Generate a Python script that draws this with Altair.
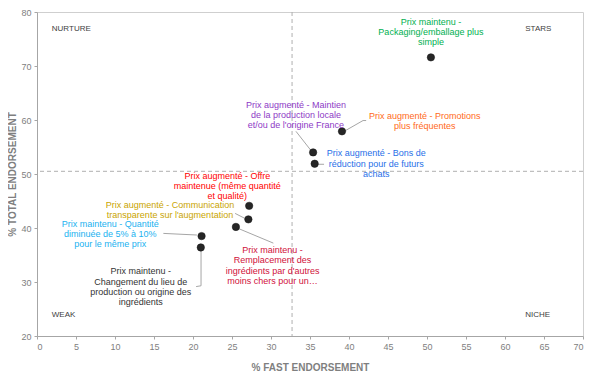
import altair as alt
import pandas as pd

# --- data ---
names = ["Packaging", "Promotions", "Maintien", "Bons", "Offre",
         "Communication", "Remplacement", "Quantite", "Changement"]
fast = [50.5, 39.1, 35.4, 35.6, 27.2, 27.1, 25.5, 21.1, 21.0]
total = [71.6, 57.9, 54.0, 51.9, 44.1, 41.6, 40.2, 38.5, 36.4]

label_text = [
    "Prix maintenu -\nPackaging/emballage plus\nsimple",
    "Prix augmenté - Promotions\nplus fréquentes",
    "Prix augmenté - Maintien\nde la production locale\net/ou de l'origine France",
    "Prix augmenté - Bons de\nréduction pour de futurs\nachats",
    "Prix augmenté - Offre\nmaintenue (même quantité\net qualité)",
    "Prix augmenté - Communication\ntransparente sur l'augmentation",
    "Prix maintenu -\nRemplacement des\ningrédients par d'autres\nmoins chers pour un…",
    "Prix maintenu - Quantité\ndiminuée de 5% à 10%\npour le même prix",
    "Prix maintenu -\nChangement du lieu de\nproduction ou origine des\ningrédients",
]
# position of each label's first line (centre)
label_x = [50.5, 49.7, 33.2, 43.5, 24.4, 17.05, 30.2, 9.4, 13.3]
label_y = [78.2, 60.8, 62.8, 53.8, 49.7, 44.3, 35.9, 40.75, 31.95]
label_color = ["#00B050", "#FF6A1A", "#8E3AC6", "#1F6FE8", "#FF0000",
               "#C9A400", "#D0103A", "#1AB2F0", "#333333"]

# leader lines (label to point)
leader_id = ["Maintien", "Maintien", "Promotions", "Promotions", "Promotions",
             "Bons", "Bons", "Communication", "Communication",
             "Quantite", "Quantite", "Remplacement", "Remplacement",
             "Changement", "Changement", "Changement"]
leader_order = [0, 1, 0, 1, 2, 0, 1, 0, 1, 0, 1, 0, 1, 0, 1, 2]
leader_x = [33.2, 35.1, 39.5, 41.8, 42.2, 35.9, 36.8, 25.4, 26.9,
            16.2, 20.5, 25.5, 30.3, 21.03, 21.03, 20.4]
leader_y = [57.9, 54.4, 58.0, 59.9, 59.9, 51.8, 51.8, 42.7, 41.6,
            39.0, 38.7, 40.1, 37.2, 36.4, 29.3, 29.15]

quad_text = ["NURTURE", "STARS", "WEAK", "NICHE"]
quad_x = [1.9, 62.6, 1.9, 62.6]
quad_y = [76.9, 76.9, 23.9, 23.9]

split_x = [32.7]
split_y = [50.5]

FONT = "Liberation Sans"

pts = pd.DataFrame({"name": names, "fast": fast, "total": total})
labs = pd.DataFrame({"text": label_text, "x": label_x, "y": label_y, "color": label_color})
leaders = pd.DataFrame({"id": leader_id, "o": leader_order, "x": leader_x, "y": leader_y})
quads = pd.DataFrame({"text": quad_text, "x": quad_x, "y": quad_y})

xscale = alt.Scale(domain=[0, 70], nice=False)
yscale = alt.Scale(domain=[20, 80], nice=False)

xaxis = alt.Axis(title="% FAST ENDORSEMENT", values=list(range(0, 71, 5)), grid=False,
                 labelOverlap=False,
                 domainColor="#a6a6a6", tickColor="#a6a6a6", tickSize=3,
                 labelColor="#808080", labelFontSize=9, labelFont=FONT,
                 titleColor="#7f7f7f", titleFontSize=10, titleFont=FONT,
                 titleFontWeight="bold", titlePadding=11, labelPadding=3)
yaxis = alt.Axis(title="% TOTAL ENDORSEMENT", values=list(range(20, 81, 10)), grid=False,
                 labelOverlap=False,
                 domainColor="#a6a6a6", tickColor="#a6a6a6", tickSize=3,
                 labelColor="#808080", labelFontSize=9, labelFont=FONT,
                 titleColor="#7f7f7f", titleFontSize=10, titleFont=FONT,
                 titleFontWeight="bold", titlePadding=3, labelPadding=3)


def X(field):
    return alt.X(field, scale=xscale, axis=xaxis)


def Y(field):
    return alt.Y(field, scale=yscale, axis=yaxis)


vline = alt.Chart(pd.DataFrame({"v": split_x})).mark_rule(
    color="#b0b0b0", strokeDash=[4, 3], strokeWidth=1
).encode(x=X("v:Q"))

hline = alt.Chart(pd.DataFrame({"v": split_y})).mark_rule(
    color="#b0b0b0", strokeDash=[4, 3], strokeWidth=1
).encode(y=Y("v:Q"))

lead = alt.Chart(leaders).mark_line(color="#a6a6a6", strokeWidth=1).encode(
    x=X("x:Q"), y=Y("y:Q"), detail="id:N", order="o:Q",
)

points = alt.Chart(pts).mark_circle(size=55, color="#262626", opacity=1,
                                    stroke="#111111", strokeWidth=0.5).encode(
    x=X("fast:Q"), y=Y("total:Q"),
)

labels = alt.Chart(labs).mark_text(
    font=FONT, fontSize=9, lineBreak="\n", lineHeight=10.2,
    align="center", baseline="middle"
).encode(
    x=X("x:Q"), y=Y("y:Q"),
    text="text:N",
    color=alt.Color("color:N", scale=None),
)

quad = alt.Chart(quads).mark_text(
    font=FONT, fontSize=8, color="#404040", align="left", baseline="middle"
).encode(
    x=X("x:Q"), y=Y("y:Q"), text="text:N",
)

chart = alt.layer(vline, hline, lead, points, labels, quad).properties(
    width=546, height=324,
    autosize=alt.AutoSizeParams(type="none"),
    padding={"left": 29, "top": 4, "right": 24, "bottom": 46},
    background="white",
).configure_view(stroke="#cfcfcf", strokeWidth=1)

chart.save("out.html", embed_options={"renderer": "svg", "actions": False})
